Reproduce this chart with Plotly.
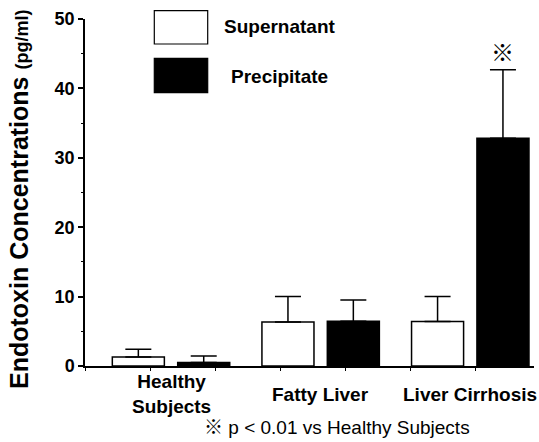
import plotly.graph_objects as go

# ---- data ----
categories = ["Healthy Subjects", "Fatty Liver", "Liver Cirrhosis"]
category_labels = ["Healthy<br>Subjects", "Fatty Liver", "Liver Cirrhosis"]
supernatant = [1.3, 6.35, 6.4]
supernatant_err = [1.1, 3.65, 3.6]
precipitate = [0.5, 6.45, 32.8]
precipitate_err = [0.95, 3.05, 9.9]
y_ticks = [0, 10, 20, 30, 40, 50]

W, H = 539, 442
L, R, T, B = 85, 5, 19, 76
PW = W - L - R
PH = H - T - B

def px(x):
    return (x - L) / PW

def py(y):
    return (H - B - y) / PH

FONT = "Liberation Sans, Arial, Helvetica, Noto Sans CJK JP, sans-serif"

fig = go.Figure()
fig.add_trace(go.Bar(
    x=categories, y=supernatant, name="Supernatant",
    marker=dict(color="white", line=dict(color="black", width=1.5)),
    error_y=dict(type="data", symmetric=False, array=supernatant_err,
                 arrayminus=[0] * len(supernatant_err),
                 color="black", thickness=1.5, width=13),
))
fig.add_trace(go.Bar(
    x=categories, y=precipitate, name="Precipitate",
    marker=dict(color="black", line=dict(color="black", width=1.5)),
    error_y=dict(type="data", symmetric=False, array=precipitate_err,
                 arrayminus=[0] * len(precipitate_err),
                 color="black", thickness=1.5, width=13),
))

fig.update_layout(
    width=W, height=H,
    margin=dict(l=L, r=R, t=T, b=B, pad=0),
    paper_bgcolor="white", plot_bgcolor="white",
    barmode="group", bargap=0.126, bargroupgap=0.204,
    showlegend=False,
    font=dict(family=FONT, color="black"),
    xaxis=dict(
        type="category", range=[-0.575, 2.426],
        showline=True, linecolor="black", linewidth=1.5,
        ticks="", showticklabels=False, showgrid=False, zeroline=False,
    ),
    xaxis2=dict(
        overlaying="x", anchor="y", side="bottom",
        range=[0, PW / 65.0], tick0=0, dtick=1,
        ticks="outside", ticklen=4, tickwidth=1.2, tickcolor="black",
        showticklabels=False, showgrid=False, zeroline=False, showline=False,
    ),
    yaxis=dict(
        range=[0, 50], tickvals=y_ticks,
        showline=True, linecolor="black", linewidth=1.5,
        ticks="outside", ticklen=5, tickwidth=1.5, tickcolor="black",
        tickfont=dict(family=FONT, size=18, weight="bold"),
        minor=dict(dtick=5, ticks="outside", ticklen=2.5, tickwidth=1, tickcolor="black"),
        showgrid=False, zeroline=False,
    ),
)

# invisible trace to keep the tick-mark axis alive
fig.add_trace(go.Scatter(x=[0], y=[0], xaxis="x2", yaxis="y", mode="markers",
                         marker=dict(opacity=0), hoverinfo="skip", showlegend=False))

# category labels
for cat, lab in zip(categories, category_labels):
    fig.add_annotation(x=cat, xref="x", y=py(394), yref="paper", text=f"<b>{lab}</b>",
                       showarrow=False, xanchor="center", yanchor="middle",
                       font=dict(size=19, family=FONT), align="center")

# significance mark over cirrhosis precipitate
fig.add_annotation(x=categories[2], xref="x", xshift=32,
                   y=precipitate[2] + precipitate_err[2], yref="y", yshift=19,
                   text="※", showarrow=False, yanchor="middle",
                   font=dict(size=23, family="Noto Sans CJK JP", weight="bold"))

# footnote
fig.add_annotation(x=px(337), xref="paper", y=py(425), yref="paper",
                   text="<span style='font-family:Noto Sans CJK JP'>※</span> p < 0.01 vs Healthy Subjects",
                   showarrow=False,
                   xanchor="center", yanchor="middle", font=dict(size=19, family=FONT))

# y title
fig.add_annotation(x=px(19), xref="paper", y=py(200), yref="paper",
                   text="<b>Endotoxin Concentrations <span style='font-size:18px'>(pg/ml)</span></b>",
                   textangle=-90, showarrow=False, xanchor="center", yanchor="middle",
                   font=dict(size=25, family=FONT))

# legend boxes
fig.add_shape(type="rect", xref="paper", yref="paper",
              x0=px(154.3), x1=px(207.7), y0=py(44), y1=py(10.7),
              fillcolor="white", line=dict(color="black", width=1.2))
fig.add_shape(type="rect", xref="paper", yref="paper",
              x0=px(154.3), x1=px(207.7), y0=py(92.7), y1=py(58.3),
              fillcolor="black", line=dict(color="black", width=1.2))
fig.add_annotation(x=px(222), xref="paper", y=py(27), yref="paper",
                   text="<b>Supernatant</b>", showarrow=False, xanchor="left",
                   yanchor="middle", font=dict(size=19, family=FONT))
fig.add_annotation(x=px(229), xref="paper", y=py(76.5), yref="paper",
                   text="<b>Precipitate</b>", showarrow=False, xanchor="left",
                   yanchor="middle", font=dict(size=19, family=FONT))

fig.write_html("out.html")
